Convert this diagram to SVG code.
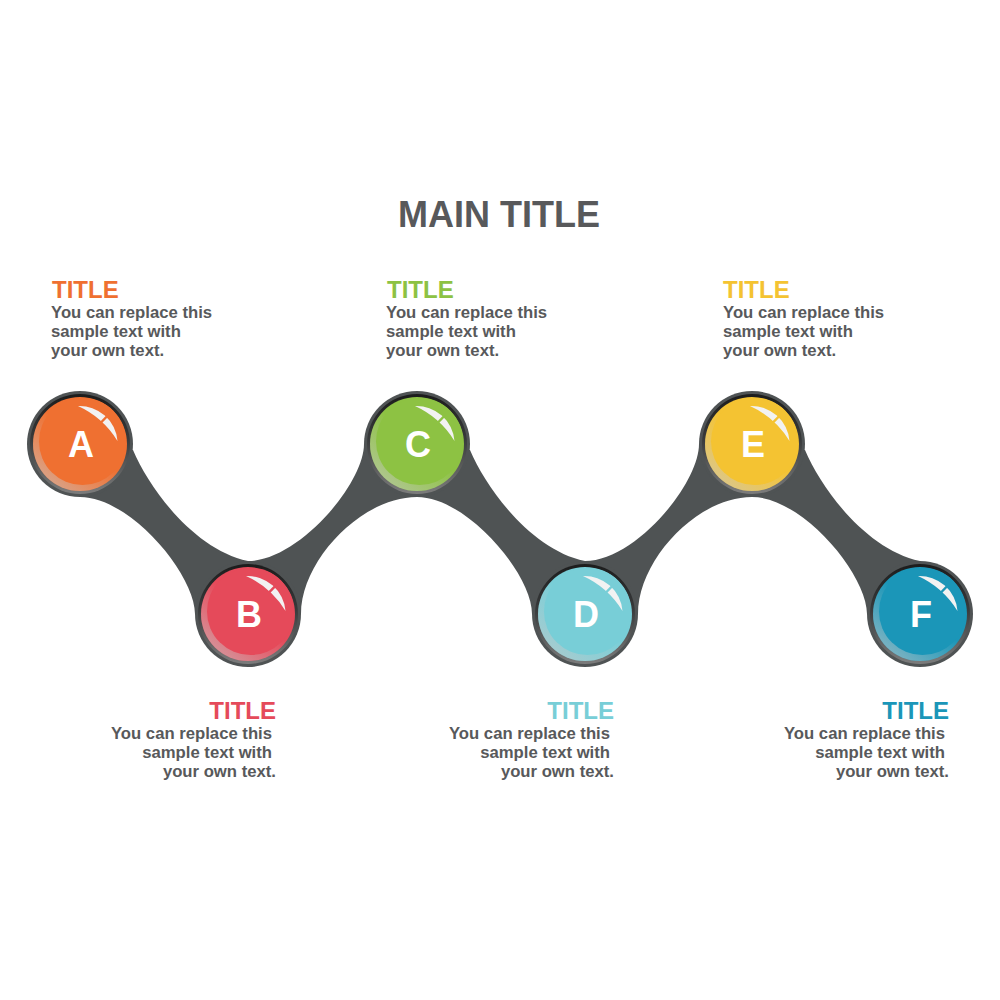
<svg xmlns="http://www.w3.org/2000/svg" width="1000" height="1000" viewBox="0 0 1000 1000">
  <defs>
    <style>
      .rim { fill: #4f5354; }
      .band { fill: #4f5354; }
      .letter { font-family: "Liberation Sans", Arial, sans-serif; font-weight: bold; font-size: 36px; fill: #ffffff; text-anchor: middle; }
      .hl { fill: #f2f2f2; }
      .ttl { font-family: "Liberation Sans", Arial, sans-serif; font-weight: bold; font-size: 24px; }
      .body { font-family: "Liberation Sans", Arial, sans-serif; font-weight: bold; font-size: 16.7px; fill: #58595b; }
      .main { font-family: "Liberation Sans", Arial, sans-serif; font-weight: bold; font-size: 36px; fill: #58595b; text-anchor: middle; }
      .end { text-anchor: end; }
    </style>
    <linearGradient id="ring" x1="0" y1="0" x2="0" y2="1">
      <stop offset="0" stop-color="#1c1c1c"/>
      <stop offset="0.45" stop-color="#383a3b"/>
      <stop offset="1" stop-color="#7c7c7c"/>
    </linearGradient>
    <linearGradient id="sheen" x1="0.85" y1="0.1" x2="0.15" y2="0.95">
      <stop offset="0.45" stop-color="#d0d0d0" stop-opacity="0"/>
      <stop offset="1" stop-color="#c8c8c8" stop-opacity="0.6"/>
    </linearGradient>
    <mask id="gap" maskUnits="userSpaceOnUse" x="-60" y="-60" width="120" height="120">
      <rect x="-60" y="-60" width="120" height="120" fill="#ffffff"/>
      <line x1="0" y1="0" x2="40" y2="-41" stroke="#000000" stroke-width="2.5"/>
    </mask>
  </defs>

  <rect width="1000" height="1000" fill="#ffffff"/>

  <text class="main" x="499" y="227">MAIN TITLE</text>

  <g id="connectors">
    <path class="band" d="M133,450 C150,490 195,550 248,561 C298,561 364,484 364,444 L470,450 C487,490 532,550 585,561 C635,561 699,484 699,444 L805,450 C822,490 867,550 920,561 L920,614 L867,614 C867,574 802,497 752,497 C697,497 638,560 638,614 L532,614 C532,574 467,497 417,497 C362,497 301,560 301,614 L195,614 C195,574 130,497 80,497 L80,444 Z"/>
  </g>

  <g id="node-a" transform="translate(80,444)" color="#ef7031">
    <circle class="rim" r="53"/>
    <circle r="50" fill="url(#ring)"/>
    <circle r="47" fill="currentColor"/>
    <circle r="47" fill="url(#sheen)"/>
    <circle cx="2.5" cy="-2.5" r="43.5" fill="currentColor"/>
    <path class="hl" d="M-2,-38 A38,38 0 0 1 37.5,-3 A90,90 0 0 0 -2,-38 Z" mask="url(#gap)"/>
    <text class="letter" x="1" y="13">A</text>
  </g>
  <g id="node-b" transform="translate(248,614)" color="#e54a5a">
    <circle class="rim" r="53"/>
    <circle r="50" fill="url(#ring)"/>
    <circle r="47" fill="currentColor"/>
    <circle r="47" fill="url(#sheen)"/>
    <circle cx="2.5" cy="-2.5" r="43.5" fill="currentColor"/>
    <path class="hl" d="M-2,-38 A38,38 0 0 1 37.5,-3 A90,90 0 0 0 -2,-38 Z" mask="url(#gap)"/>
    <text class="letter" x="1" y="13">B</text>
  </g>
  <g id="node-c" transform="translate(417,444)" color="#8dc243">
    <circle class="rim" r="53"/>
    <circle r="50" fill="url(#ring)"/>
    <circle r="47" fill="currentColor"/>
    <circle r="47" fill="url(#sheen)"/>
    <circle cx="2.5" cy="-2.5" r="43.5" fill="currentColor"/>
    <path class="hl" d="M-2,-38 A38,38 0 0 1 37.5,-3 A90,90 0 0 0 -2,-38 Z" mask="url(#gap)"/>
    <text class="letter" x="1" y="13">C</text>
  </g>
  <g id="node-d" transform="translate(585,614)" color="#78ced7">
    <circle class="rim" r="53"/>
    <circle r="50" fill="url(#ring)"/>
    <circle r="47" fill="currentColor"/>
    <circle r="47" fill="url(#sheen)"/>
    <circle cx="2.5" cy="-2.5" r="43.5" fill="currentColor"/>
    <path class="hl" d="M-2,-38 A38,38 0 0 1 37.5,-3 A90,90 0 0 0 -2,-38 Z" mask="url(#gap)"/>
    <text class="letter" x="1" y="13">D</text>
  </g>
  <g id="node-e" transform="translate(752,444)" color="#f4c332">
    <circle class="rim" r="53"/>
    <circle r="50" fill="url(#ring)"/>
    <circle r="47" fill="currentColor"/>
    <circle r="47" fill="url(#sheen)"/>
    <circle cx="2.5" cy="-2.5" r="43.5" fill="currentColor"/>
    <path class="hl" d="M-2,-38 A38,38 0 0 1 37.5,-3 A90,90 0 0 0 -2,-38 Z" mask="url(#gap)"/>
    <text class="letter" x="1" y="13">E</text>
  </g>
  <g id="node-f" transform="translate(920,614)" color="#1b96b8">
    <circle class="rim" r="53"/>
    <circle r="50" fill="url(#ring)"/>
    <circle r="47" fill="currentColor"/>
    <circle r="47" fill="url(#sheen)"/>
    <circle cx="2.5" cy="-2.5" r="43.5" fill="currentColor"/>
    <path class="hl" d="M-2,-38 A38,38 0 0 1 37.5,-3 A90,90 0 0 0 -2,-38 Z" mask="url(#gap)"/>
    <text class="letter" x="1" y="13">F</text>
  </g>

  <g id="text-a">
    <text class="ttl" x="52" y="298" fill="#ef7031">TITLE</text>
    <text class="body" x="51" y="318">You can replace this</text>
    <text class="body" x="51" y="337">sample text with</text>
    <text class="body" x="51" y="356">your own text.</text>
  </g>
  <g id="text-c">
    <text class="ttl" x="387" y="298" fill="#8dc243">TITLE</text>
    <text class="body" x="386" y="318">You can replace this</text>
    <text class="body" x="386" y="337">sample text with</text>
    <text class="body" x="386" y="356">your own text.</text>
  </g>
  <g id="text-e">
    <text class="ttl" x="723" y="298" fill="#f4c332">TITLE</text>
    <text class="body" x="723" y="318">You can replace this</text>
    <text class="body" x="723" y="337">sample text with</text>
    <text class="body" x="723" y="356">your own text.</text>
  </g>
  <g id="text-b">
    <text class="ttl end" x="276" y="719" fill="#e54a5a">TITLE</text>
    <text class="body end" x="272" y="739">You can replace this</text>
    <text class="body end" x="272" y="758">sample text with</text>
    <text class="body end" x="276" y="777">your own text.</text>
  </g>
  <g id="text-d">
    <text class="ttl end" x="614" y="719" fill="#78ced7">TITLE</text>
    <text class="body end" x="610" y="739">You can replace this</text>
    <text class="body end" x="610" y="758">sample text with</text>
    <text class="body end" x="614" y="777">your own text.</text>
  </g>
  <g id="text-f">
    <text class="ttl end" x="949" y="719" fill="#1b96b8">TITLE</text>
    <text class="body end" x="945" y="739">You can replace this</text>
    <text class="body end" x="945" y="758">sample text with</text>
    <text class="body end" x="949" y="777">your own text.</text>
  </g>
</svg>
